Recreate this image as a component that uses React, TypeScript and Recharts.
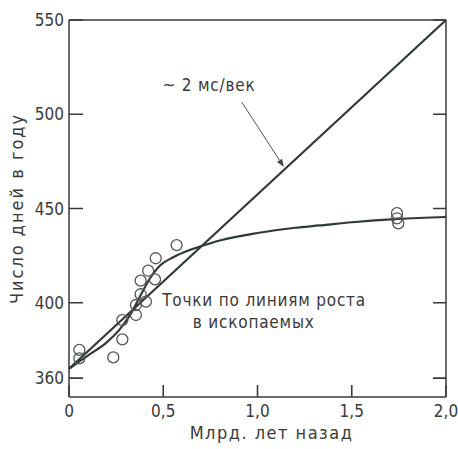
import {
  ComposedChart,
  Line,
  Scatter,
  XAxis,
  YAxis,
  ReferenceLine,
  ReferenceDot,
} from "recharts";

// straight line (~2 ms per century)
const trendX = [0, 2.0];
const trendY = [365, 550];

// curve through the fossil growth-line points
const curveX = [0, 0.1, 0.2, 0.27, 0.33, 0.38, 0.43, 0.48, 0.55, 0.64, 0.7, 0.8, 1.0, 1.2, 1.33, 1.5, 1.75, 2.0];
const curveY = [365, 372, 379, 386, 394.5, 404, 413, 419.5, 424, 428, 430, 433, 437, 439.8, 441, 442.7, 444.5, 445.5];

// fossil points
const fossilX = [0.055, 0.055, 0.235, 0.283, 0.283, 0.355, 0.355, 0.38, 0.408, 0.38, 0.42, 0.456, 0.46, 0.571, 1.74, 1.74, 1.747];
const fossilY = [375, 370.5, 371, 390.8, 380.6, 398.8, 393.5, 404.5, 400.6, 411.7, 417, 412.4, 423.6, 430.6, 447.5, 444.8, 442.1];

const xTicks = [0, 0.5, 1.0, 1.5, 2.0];
const yTicks = [360, 400, 450, 500, 550];

const trendData = trendX.map((x, i) => ({ x, y: trendY[i] }));
const curveData = curveX.map((x, i) => ({ x, y: curveY[i] }));
const fossilData = fossilX.map((x, i) => ({ x, y: fossilY[i] }));

const W = 458;
const H = 449;
const M = { top: 19, right: 11, left: 0, bottom: 0 };
const Y_W = 69;
const X_H = 52;
const PL = M.left + Y_W;
const PB = H - M.bottom - X_H;

const INK = "#3a3a3a";
const LINE = "#2e3a32";
const FONT = "'Liberation Sans Narrow', 'DejaVu Sans Condensed', 'Roboto Condensed', 'Liberation Sans', sans-serif";

const fmtX = (v: number) => (v === 0 ? "0" : v.toFixed(1).replace(".", ","));

const axisStyle = { stroke: INK, strokeWidth: 1.5 };

const LeftTick = (p: any) => (
  <text x={PL - 5} y={p.y} textAnchor="end" dominantBaseline="central" fontSize={17} fill={INK} fontFamily={FONT}>
    {p.payload.value}
  </text>
);

const BottomTick = (p: any) => (
  <text x={p.x} y={PB + 14} textAnchor="middle" dominantBaseline="central" fontSize={17} fill={INK} fontFamily={FONT}>
    {fmtX(p.payload.value)}
  </text>
);

const NoTick = () => <g />;

// inward tick marks on both vertical sides
const YMarks = (p: any) => {
  const l = Math.min(p.x1, p.x2);
  const r = Math.max(p.x1, p.x2);
  const y = p.y1;
  return (
    <path d={`M${l},${y}H${l + 14}M${r - 13},${y}H${r}`} stroke={INK} strokeWidth={1.6} fill="none" />
  );
};

// inward tick marks on the bottom side
const XMarks = (p: any) => {
  const b = Math.max(p.y1, p.y2);
  return <path d={`M${p.x1},${b}V${b - 12}`} stroke={INK} strokeWidth={1.6} fill="none" />;
};

const Arrow = (p: any) => {
  const { x1, y1, x2, y2 } = p;
  const a = Math.atan2(y2 - y1, x2 - x1);
  const len = 8;
  const w = 3;
  const bx = x2 - len * Math.cos(a);
  const by = y2 - len * Math.sin(a);
  const pts = [
    [x2, y2],
    [bx + w * Math.sin(a), by - w * Math.cos(a)],
    [bx - w * Math.sin(a), by + w * Math.cos(a)],
  ]
    .map((q) => q.join(","))
    .join(" ");
  return (
    <g>
      <path d={`M${x1},${y1}L${bx},${by}`} stroke="#555" strokeWidth={1} fill="none" />
      <polygon points={pts} fill="#444" />
    </g>
  );
};

const note = (text: string) => (p: any) => (
  <text x={p.cx} y={p.cy} textAnchor="middle" dominantBaseline="central" fontSize={17} fill={INK} fontFamily={FONT} letterSpacing={0.8}>
    {text}
  </text>
);

const Ring = (p: any) => (
  <circle cx={p.cx} cy={p.cy} r={5.5} fill="none" stroke="#555" strokeWidth={1.3} />
);

export default function App() {
  return (
    <div style={{ position: "absolute", left: 0, top: 0, background: "#fff" }}>
      <ComposedChart width={W} height={H} margin={M}>
        <XAxis
          type="number"
          dataKey="x"
          domain={[0, 2]}
          ticks={xTicks}
          height={X_H}
          axisLine={axisStyle}
          tickLine={false}
          tick={<BottomTick />}
          interval={0}
          label={{
            value: "Млрд. лет назад",
            position: "insideBottom",
            dx: 14,
            dy: -5,
            fontSize: 18,
            fill: INK,
            fontFamily: FONT,
            letterSpacing: 1.5,
          }}
        />
        <XAxis
          xAxisId="top"
          orientation="top"
          type="number"
          domain={[0, 2]}
          height={1}
          axisLine={axisStyle}
          tick={<NoTick />}
          tickLine={false}
        />
        <YAxis
          type="number"
          domain={[350, 550]}
          ticks={yTicks}
          width={Y_W}
          axisLine={axisStyle}
          tickLine={false}
          tick={<LeftTick />}
          interval={0}
          label={{
            value: "Число дней в году",
            angle: -90,
            position: "insideLeft",
            dx: 12,
            dy: 0,
            style: { textAnchor: "middle" },
            fontSize: 18,
            fill: INK,
            fontFamily: FONT,
            letterSpacing: 2,
          }}
        />
        <YAxis
          yAxisId="right"
          orientation="right"
          type="number"
          domain={[350, 550]}
          width={1}
          axisLine={axisStyle}
          tickLine={false}
          tick={<NoTick />}
        />
        {yTicks.map((v) => (
          <ReferenceLine key={`y${v}`} y={v} shape={<YMarks />} />
        ))}
        {xTicks.map((v) => (
          <ReferenceLine key={`x${v}`} x={v} shape={<XMarks />} />
        ))}
        <Line
          data={trendData}
          dataKey="y"
          type="linear"
          stroke={LINE}
          strokeWidth={2.2}
          dot={false}
          isAnimationActive={false}
        />
        <Line
          data={curveData}
          dataKey="y"
          type="monotone"
          stroke={LINE}
          strokeWidth={2.2}
          dot={false}
          isAnimationActive={false}
        />
        <Scatter data={fossilData} dataKey="y" shape={<Ring />} isAnimationActive={false} />
        <ReferenceLine
          segment={[
            { x: 0.916, y: 506.5 },
            { x: 1.14, y: 472 },
          ]}
          shape={<Arrow />}
        />
        <ReferenceDot x={0.743} y={515.5} r={0} shape={note("~ 2 мс/век")} />
        <ReferenceDot x={1.035} y={401.5} r={0} shape={note("Точки по линиям роста")} />
        <ReferenceDot x={0.98} y={389.8} r={0} shape={note("в ископаемых")} />
      </ComposedChart>
    </div>
  );
}
